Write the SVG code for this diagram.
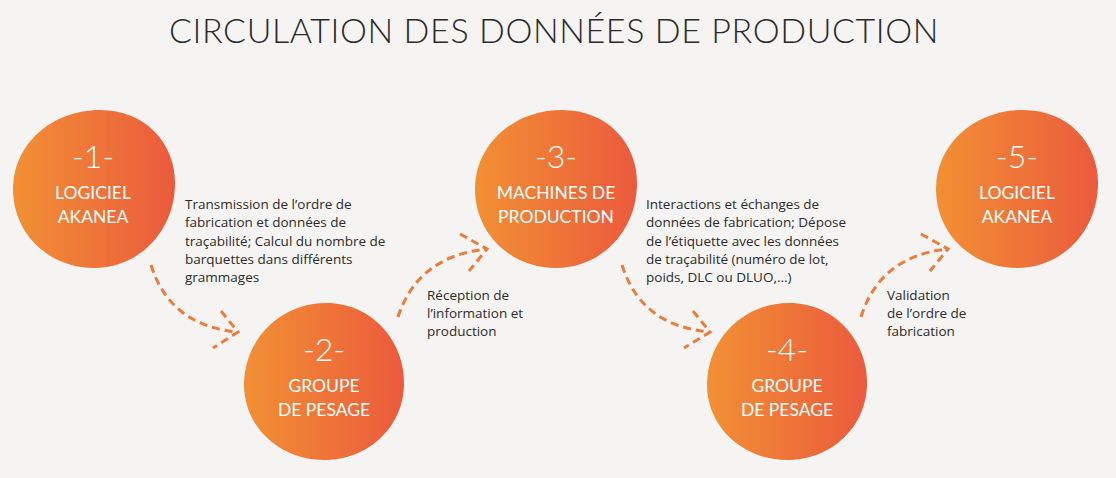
<svg xmlns="http://www.w3.org/2000/svg" xmlns:xlink="http://www.w3.org/1999/xlink" width="1116" height="478" viewBox="0 0 1116 478">
<style>
.title{font-family:Lato,"Open Sans",sans-serif;font-weight:300;font-size:34px;letter-spacing:0.6px;fill:#2a2a2a;text-anchor:middle}
.num{font-family:Lato,"Open Sans",sans-serif;font-weight:300;font-size:32px;fill:#fff;text-anchor:middle}
.lbl{font-family:Lato,"Open Sans",sans-serif;font-weight:400;font-size:17.5px;fill:#fff;text-anchor:middle}
.desc{font-family:"Open Sans",Lato,sans-serif;font-size:13.5px;fill:#2b2b2b}
.dash{fill:none;stroke:#EF7B3A;stroke-width:3;stroke-dasharray:8 5}
</style>
<defs>
<linearGradient id="g" x1="0" y1="0" x2="1" y2="0">
<stop offset="0" stop-color="#F29034"/>
<stop offset="1" stop-color="#EB5A3D"/>
</linearGradient>
<path id="blobA" d="M -81,0 C -81,-45 -42,-79 6,-79 C 52,-79 81,-45 81,-6 C 81,42 45,79 0,79 C -45,79 -81,45 -81,0 Z" fill="url(#g)"/>
<path id="blobB" d="M -80,4 C -80,-42 -43,-78 2,-78 C 48,-78 80,-40 80,2 C 80,46 44,79 0,79 C -44,79 -80,46 -80,4 Z" fill="url(#g)"/>
</defs>
<rect width="1116" height="478" fill="#F6F4F2"/>
<text class="title" x="554" y="43">CIRCULATION DES DONNÉES DE PRODUCTION</text>

<g id="node1">
<use xlink:href="#blobA" x="94" y="189"/>
<text class="num" x="93" y="168">-1-</text>
<text class="lbl" x="93" y="199">LOGICIEL</text>
<text class="lbl" x="93" y="223">AKANEA</text>
</g>
<g id="node2">
<use xlink:href="#blobB" x="324" y="381"/>
<text class="num" x="324" y="361">-2-</text>
<text class="lbl" x="324" y="392">GROUPE</text>
<text class="lbl" x="324" y="416">DE PESAGE</text>
</g>
<g id="node3">
<use xlink:href="#blobA" x="556" y="189"/>
<text class="num" x="556" y="168">-3-</text>
<text class="lbl" x="556" y="199">MACHINES DE</text>
<text class="lbl" x="556" y="223">PRODUCTION</text>
</g>
<g id="node4">
<use xlink:href="#blobB" x="787" y="381"/>
<text class="num" x="787" y="361">-4-</text>
<text class="lbl" x="787" y="392">GROUPE</text>
<text class="lbl" x="787" y="416">DE PESAGE</text>
</g>
<g id="node5">
<use xlink:href="#blobA" x="1017" y="189"/>
<text class="num" x="1017" y="168">-5-</text>
<text class="lbl" x="1017" y="199">LOGICIEL</text>
<text class="lbl" x="1017" y="223">AKANEA</text>
</g>

<g id="connectors">
<path class="dash" d="M151,265 Q170,326 238,332"/>
<path class="dash" d="M221,311 L238,332 L213,348"/>
<path class="dash" d="M398,317 Q418,256 487,249"/>
<path class="dash" d="M460,234 L487,249 L469,271"/>
<path class="dash" d="M622,265 Q641,326 710,332"/>
<path class="dash" d="M693,311 L710,332 L684,348"/>
<path class="dash" d="M861,317 Q880,256 948,249"/>
<path class="dash" d="M921,234 L948,249 L930,271"/>
</g>

<g id="labels">
<text class="desc" x="185" y="209">Transmission de l’ordre de</text>
<text class="desc" x="185" y="227">fabrication et données de</text>
<text class="desc" x="185" y="245.5">traçabilité; Calcul du nombre de</text>
<text class="desc" x="185" y="264">barquettes dans différents</text>
<text class="desc" x="185" y="282">grammages</text>
<text class="desc" x="427" y="300">Réception de</text>
<text class="desc" x="427" y="318">l’information et</text>
<text class="desc" x="427" y="336">production</text>
<text class="desc" x="646" y="209">Interactions et échanges de</text>
<text class="desc" x="646" y="227">données de fabrication; Dépose</text>
<text class="desc" x="646" y="245.5">de l’étiquette avec les données</text>
<text class="desc" x="646" y="264">de traçabilité (numéro de lot,</text>
<text class="desc" x="646" y="282">poids, DLC ou DLUO,...)</text>
<text class="desc" x="887" y="300">Validation</text>
<text class="desc" x="887" y="318">de l’ordre de</text>
<text class="desc" x="887" y="336">fabrication</text>
</g>
</svg>
